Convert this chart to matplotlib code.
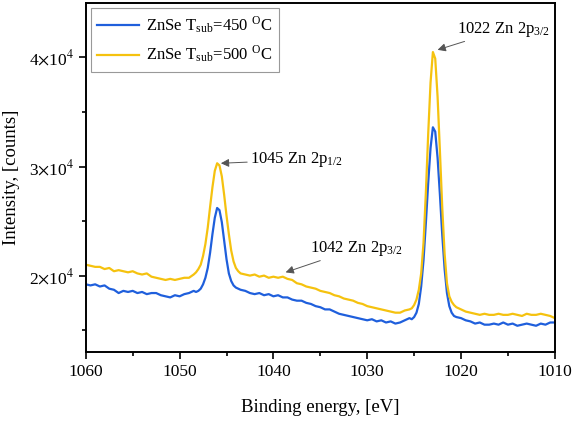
import matplotlib
matplotlib.use("Agg")
import matplotlib.pyplot as plt
from matplotlib.ticker import MultipleLocator, FixedLocator, FuncFormatter

plt.rcParams['font.family'] = ['Liberation Serif', 'DejaVu Serif']
plt.rcParams['mathtext.fontset'] = 'stix'

# binding energy grid (eV), finer around the two peaks
energy = [
    1060.0, 1059.5, 1059.0, 1058.5, 1058.0, 1057.5, 1057.0, 1056.5, 1056.0, 1055.5,
    1055.0, 1054.5, 1054.0, 1053.5, 1053.0, 1052.5, 1052.0, 1051.5, 1051.0, 1050.5,
    1050.0, 1049.5, 1049.0, 1048.5,
    1048.25, 1048.0, 1047.75, 1047.5, 1047.25, 1047.0, 1046.75, 1046.5, 1046.25, 1046.0,
    1045.75, 1045.5, 1045.25, 1045.0, 1044.75, 1044.5, 1044.25, 1044.0, 1043.75, 1043.5,
    1043.0, 1042.5, 1042.0, 1041.5, 1041.0, 1040.5, 1040.0, 1039.5, 1039.0, 1038.5,
    1038.0, 1037.5, 1037.0, 1036.5, 1036.0, 1035.5, 1035.0, 1034.5, 1034.0, 1033.5,
    1033.0, 1032.5, 1032.0, 1031.5, 1031.0, 1030.5, 1030.0, 1029.5, 1029.0, 1028.5,
    1028.0, 1027.5, 1027.0, 1026.5, 1026.0, 1025.5,
    1025.25, 1025.0, 1024.75, 1024.5, 1024.25, 1024.0, 1023.75, 1023.5, 1023.25, 1023.0,
    1022.75, 1022.5, 1022.25, 1022.0, 1021.75, 1021.5, 1021.25, 1021.0, 1020.75, 1020.5,
    1020.0, 1019.5, 1019.0, 1018.5, 1018.0, 1017.5, 1017.0, 1016.5, 1016.0, 1015.5,
    1015.0, 1014.5, 1014.0, 1013.5, 1013.0, 1012.5, 1012.0, 1011.5, 1011.0, 1010.5,
    1010.0,
]

# intensity in units of 10^4 counts
t450 = [
    1.92, 1.91, 1.92, 1.90, 1.91, 1.88, 1.87, 1.84, 1.86, 1.85,
    1.86, 1.84, 1.85, 1.83, 1.84, 1.84, 1.82, 1.81, 1.80, 1.82,
    1.81, 1.83, 1.84, 1.86,
    1.85, 1.86, 1.88, 1.92, 1.98, 2.07, 2.21, 2.38, 2.53, 2.62,
    2.60, 2.49, 2.32, 2.15, 2.02, 1.95, 1.91, 1.89, 1.88, 1.87,
    1.86, 1.84, 1.83, 1.84, 1.82, 1.83, 1.81, 1.82, 1.80, 1.80,
    1.78, 1.77, 1.77, 1.75, 1.74, 1.72, 1.71, 1.69, 1.69, 1.67,
    1.65, 1.64, 1.63, 1.62, 1.61, 1.60, 1.59, 1.60, 1.58, 1.59,
    1.57, 1.58, 1.56, 1.57, 1.59, 1.61,
    1.60, 1.62, 1.66, 1.74, 1.90, 2.14, 2.48, 2.85, 3.17, 3.36,
    3.32, 3.08, 2.74, 2.37, 2.06, 1.84, 1.72, 1.66, 1.63, 1.62,
    1.61, 1.59, 1.58, 1.56, 1.57, 1.55, 1.55, 1.56, 1.55, 1.57,
    1.55, 1.56, 1.54, 1.55, 1.56, 1.55, 1.54, 1.56, 1.55, 1.57,
    1.57,
]

t500 = [
    2.10, 2.09, 2.08, 2.08, 2.06, 2.07, 2.04, 2.05, 2.04, 2.03,
    2.04, 2.02, 2.01, 2.02, 1.99, 1.98, 1.97, 1.96, 1.97, 1.96,
    1.97, 1.98, 1.98, 2.01,
    2.03, 2.06, 2.10, 2.18, 2.29, 2.44, 2.63, 2.81, 2.96, 3.03,
    3.01, 2.91, 2.74, 2.55, 2.38, 2.23, 2.13, 2.07, 2.04, 2.02,
    2.01, 2.00, 2.01, 1.99, 2.00, 1.98, 1.99, 1.98, 1.99, 1.97,
    1.96, 1.93, 1.92, 1.90, 1.89, 1.88, 1.86, 1.85, 1.84, 1.82,
    1.81, 1.79, 1.78, 1.77, 1.75, 1.74, 1.72, 1.71, 1.70, 1.69,
    1.68, 1.67, 1.66, 1.66, 1.68, 1.69,
    1.70, 1.73, 1.78, 1.87, 2.02, 2.30, 2.76, 3.30, 3.77, 4.05,
    3.99, 3.64, 3.14, 2.62, 2.20, 1.93, 1.81, 1.76, 1.73, 1.71,
    1.69, 1.67, 1.66, 1.65, 1.64, 1.65, 1.64, 1.64, 1.65, 1.64,
    1.64, 1.65, 1.64, 1.63, 1.65, 1.64, 1.64, 1.65, 1.64, 1.63,
    1.61,
]

labels = [r'ZnSe T$_\mathregular{sub}$=450 $^\mathregular{O}$C',
          r'ZnSe T$_\mathregular{sub}$=500 $^\mathregular{O}$C']
colors = ['#1f5fdc', '#f5c20f']

fig = plt.figure(figsize=(5.72, 4.23), dpi=100)
ax = fig.add_axes([0.150, 0.168, 0.820, 0.825])

ax.plot(energy, [v * 1e4 for v in t450], color=colors[0], lw=1.6, label=labels[0])
ax.plot(energy, [v * 1e4 for v in t500], color=colors[1], lw=1.6, label=labels[1])

ax.set_xlim(1060, 1010)
ax.set_ylim(1.3e4, 4.5e4)

ax.xaxis.set_major_locator(MultipleLocator(10))
ax.xaxis.set_minor_locator(MultipleLocator(5))
ax.yaxis.set_major_locator(FixedLocator([2e4, 3e4, 4e4]))
ax.yaxis.set_minor_locator(FixedLocator([1.5e4, 2.5e4, 3.5e4]))
ax.yaxis.set_major_formatter(FuncFormatter(lambda v, p: r'%d$\times$10$^{4}$' % round(v / 1e4)))

ax.tick_params(which='major', direction='out', length=5, width=1.2, labelsize=12.5)
ax.tick_params(which='minor', direction='out', length=3, width=1.2)
for s in ax.spines.values():
    s.set_linewidth(1.4)

ax.set_xlabel('Binding energy, [eV]', fontsize=13.5, labelpad=14)
ax.set_ylabel('Intensity, [counts]', fontsize=13.5, labelpad=6)

arrow = dict(arrowstyle='-|>', color='#555555', lw=0.7, shrinkA=0, shrinkB=0,
             mutation_scale=12)
ax.annotate(r'1045 Zn 2p$_\mathregular{1/2}$', xy=(1045.6, 3.03e4), xytext=(1042.5, 3.06e4),
            fontsize=12, va='center', arrowprops=arrow)
ax.annotate(r'1022 Zn 2p$_\mathregular{3/2}$', xy=(1022.5, 4.07e4), xytext=(1020.4, 4.26e4),
            fontsize=12, va='center', arrowprops=arrow)
ax.annotate(r'1042 Zn 2p$_\mathregular{3/2}$', xy=(1038.7, 2.03e4), xytext=(1036.1, 2.25e4),
            fontsize=12, va='center', arrowprops=arrow)

leg = ax.legend(loc='upper left', fontsize=12, fancybox=False, framealpha=1,
                edgecolor='#999999', handlelength=2.5, handletextpad=0.4,
                borderaxespad=0.3, labelspacing=0.5)
leg.get_frame().set_linewidth(0.8)

fig.savefig('out.png', dpi=100)
